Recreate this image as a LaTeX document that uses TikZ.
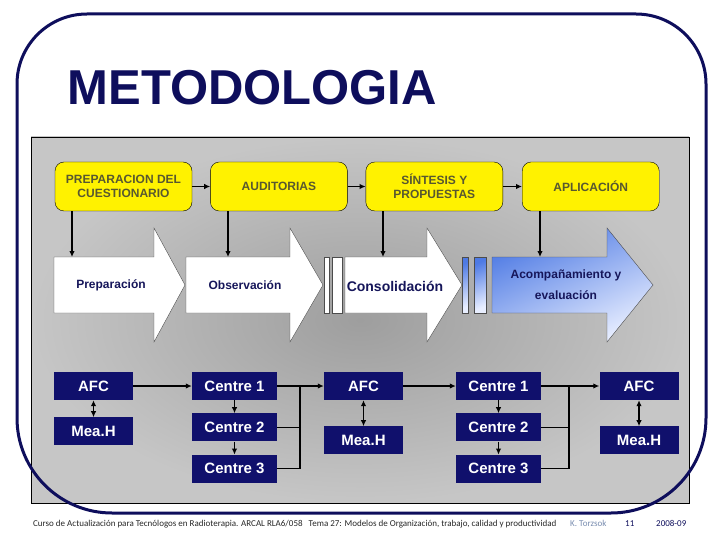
\documentclass[tikz,border=0pt]{standalone}
\usepackage{fontspec}
\setmainfont{Liberation Sans}
\newfontfamily\pie{Carlito}
\usetikzlibrary{positioning,arrows.meta}
\definecolor{marino}{RGB}{14,14,92}
\definecolor{caja}{RGB}{16,16,108}
\definecolor{oliva}{RGB}{88,88,48}
\definecolor{tinta}{RGB}{22,22,90}
\definecolor{azul}{RGB}{78,122,228}
\definecolor{celeste}{RGB}{232,238,255}
\definecolor{gris}{RGB}{198,198,198}
\definecolor{grisosc}{RGB}{158,158,158}
\definecolor{firma}{RGB}{120,140,175}

\begin{document}
\begin{tikzpicture}[x=1pt,y=-1pt,
    fase/.style={draw=black,fill=yellow,rounded corners=9pt,minimum width=137pt,minimum height=49pt,
      align=center,text=oliva,font=\bfseries\fontsize{12}{14}\selectfont},
    bloque/.style={fill=caja,text=white,minimum width=79pt,minimum height=28pt,inner sep=0pt,
      font=\bfseries\fontsize{15}{15}\selectfont},
    centro/.style={bloque,minimum width=85pt},
    flecha/.style={draw=black!70,fill=white},
    azulada/.style={draw=black!70,top color=azul,bottom color=celeste,shading angle=25},
    rotulo/.style={text=tinta,align=center,font=\bfseries\fontsize{12}{21}\selectfont},
    conector/.style={line width=1.3pt,-{Latex[length=6pt,width=5.5pt]}},
    doble/.style={line width=1.3pt,{Latex[length=6pt,width=5.5pt]}-{Latex[length=6pt,width=5.5pt]}},
    linea/.style={line width=1.3pt},
    nota/.style={anchor=base west,inner sep=0pt,font=\pie\fontsize{9}{10}\selectfont}]
    \useasboundingbox (0,0) rectangle (720,540);
    \shade[draw=black,inner color=grisosc,outer color=gris] (31,137) rectangle (689,503);
    \node[anchor=base west,text=marino,font=\bfseries\fontsize{49}{49}\selectfont] (titulo) at (64,105) {METODOLOGIA};

    % fases
    \node[fase] (prep) at (123.5,186.5) {PREPARACION DEL\\CUESTIONARIO};
    \node[fase,right=18pt of prep] (audit) {AUDITORIAS};
    \node[fase,right=18pt of audit] (sint) {SÍNTESIS Y\\PROPUESTAS};
    \node[fase,right=19pt of sint] (aplic) {APLICACIÓN};
    \draw[conector] (prep) -- (audit);
    \draw[conector] (audit) -- (sint);
    \draw[conector] (sint) -- (aplic);

    % flechas grandes
    \draw[flecha] (54,257) -- (154,257) -- (154,228) -- (185,285) -- (154,342) -- (154,313) -- (54,313) -- cycle;
    \draw[flecha] (186,257) -- (290,257) -- (290,228) -- (323,285) -- (290,342) -- (290,313) -- (186,313) -- cycle;
    \draw[flecha] (324,257) rectangle (329,313);
    \draw[flecha] (332,257) rectangle (342,313);
    \draw[flecha] (345,257) -- (427,257) -- (427,228) -- (462,285) -- (427,342) -- (427,313) -- (345,313) -- cycle;
    \shade[azulada] (462,257) rectangle (468,313);
    \shade[azulada] (474,257) rectangle (486,313);
    \shade[azulada] (492,257) -- (607,257) -- (607,228) -- (653,285) -- (607,342) -- (607,313) -- (492,313) -- cycle;
    \node[rotulo] (tprep) at (111,285) {Preparación};
    \node[rotulo] (tobs) at (245,285) {Observación};
    \node[rotulo,font=\bfseries\fontsize{14}{15}\selectfont] (tcons) at (395,286) {Consolidación};
    \node[rotulo] (tacomp) at (566,285) {Acompañamiento y\\evaluación};

    \coordinate (e1) at (72,257);
    \coordinate (e2) at (228,257);
    \coordinate (e3) at (383,257);
    \coordinate (e4) at (540,257);
    \draw[conector] (prep.south -| e1) -- (e1);
    \draw[conector] (audit.south -| e2) -- (e2);
    \draw[conector] (sint.south -| e3) -- (e3);
    \draw[conector] (aplic.south -| e4) -- (e4);

    % centros
    \node[bloque] (afc1) at (93.5,386) {AFC};
    \node[bloque,below=17pt of afc1] (meah1) {Mea.H};
    \node[centro] (c11) at (234.5,386) {Centre 1};
    \node[centro,below=13pt of c11] (c12) {Centre 2};
    \node[centro,below=13pt of c12] (c13) {Centre 3};
    \node[bloque] (afc2) at (363.5,386) {AFC};
    \node[bloque,below=26pt of afc2] (meah2) {Mea.H};
    \node[centro] (c21) at (498.5,386) {Centre 1};
    \node[centro,below=13pt of c21] (c22) {Centre 2};
    \node[centro,below=13pt of c22] (c23) {Centre 3};
    \node[bloque] (afc3) at (639,386) {AFC};
    \node[bloque,below=26pt of afc3] (meah3) {Mea.H};

    \draw[doble] (afc1) -- (meah1);
    \draw[doble] (afc2) -- (meah2);
    \draw[doble] (afc3) -- (meah3);
    \draw[conector] (afc1) -- (c11);
    \draw[conector] (afc2) -- (c21);
    \draw[conector] (c11) -- (c12);
    \draw[conector] (c12) -- (c13);
    \draw[conector] (c21) -- (c22);
    \draw[conector] (c22) -- (c23);
    \coordinate (u1) at (300,0);
    \coordinate (u2) at (569,0);
    \draw[conector] (c11) -- (afc2);
    \draw[conector] (c21) -- (afc3);
    \draw[linea] (c13.east) -- (c13.east -| u1) -- (c11.east -| u1);
    \draw[linea] (c12.east) -- (c12.east -| u1);
    \draw[linea] (c23.east) -- (c23.east -| u2) -- (c21.east -| u2);
    \draw[linea] (c22.east) -- (c22.east -| u2);

    % pie
    \node[nota,text=black!85] (curso) at (33,526)
      {Curso de Actualización para Tecnólogos en Radioterapia. ARCAL RLA6/058 \ \ Tema 27: Modelos de Organización, trabajo, calidad y productividad};
    \node[nota,text=firma] (autor) at (570,526) {K. Torzsok};
    \node[nota,text=marino] (pag) at (625,526) {11};
    \node[nota,text=marino] (fecha) at (656,526) {2008-09};

    \draw[marino,line width=3pt] (17,300) [rounded corners=70pt] |- (360,14) -| (706,300)
      [rounded corners=95pt] |- (360,513) -| (17,300) -- cycle;
  \end{tikzpicture}
\end{document}
